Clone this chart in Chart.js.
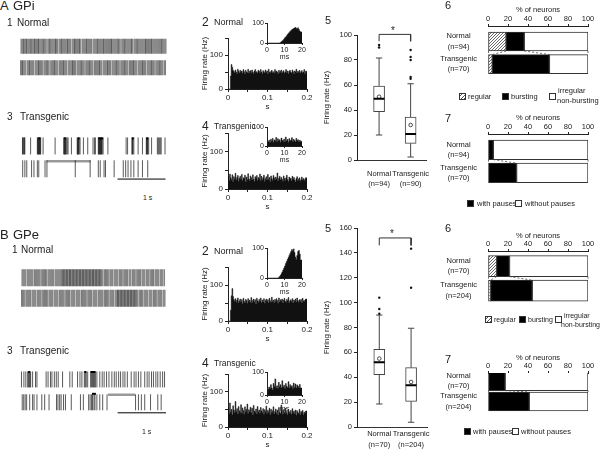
<!DOCTYPE html>
<html>
<head>
<meta charset="utf-8">
<script src="https://cdn.jsdelivr.net/npm/chart.js@4.4.1/dist/chart.umd.min.js"></script>
<style>
body { margin: 0; background: #fff; }
#fig { position: relative; width: 600px; height: 450px; overflow: hidden; font-family: "Liberation Sans", Arial, sans-serif; color: #222; }
#fig canvas { position: absolute; }
.t { position: absolute; white-space: nowrap; line-height: 1; }
.sw { position: absolute; width: 7px; height: 7px; border: 1px solid #333; box-sizing: border-box; }
</style>
</head>
<body>
<div id="fig"></div>
<script>
// spike times (s) for the raster traces, 3 s per trace
const A1_SPIKES_1 = [0.01,0.03,0.05,0.06,0.08,0.10,0.12,0.13,0.15,0.17,0.19,0.21,0.22,0.24,0.26,0.28,0.29,0.31,0.33,0.35,0.37,0.38,0.40,0.42,0.44,0.46,0.47,0.49,0.51,0.53,0.56,0.58,0.60,0.61,0.63,0.65,0.67,0.69,0.71,0.72,0.74,0.76,0.79,0.81,0.83,0.84,0.86,0.88,0.90,0.92,0.94,0.96,0.97,0.99,1.01,1.03,1.06,1.08,1.10,1.11,1.13,1.15,1.17,1.19,1.21,1.22,1.24,1.27,1.29,1.31,1.33,1.35,1.36,1.38,1.40,1.42,1.44,1.46,1.49,1.51,1.53,1.55,1.57,1.58,1.60,1.62,1.64,1.66,1.68,1.70,1.71,1.73,1.75,1.77,1.79,1.81,1.83,1.85,1.87,1.88,1.90,1.92,1.94,1.96,1.98,2.00,2.01,2.03,2.05,2.08,2.10,2.12,2.14,2.15,2.17,2.19,2.21,2.23,2.25,2.27,2.28,2.30,2.33,2.35,2.37,2.39,2.40,2.42,2.44,2.46,2.48,2.50,2.52,2.54,2.56,2.57,2.59,2.61,2.63,2.65,2.67,2.69,2.70,2.72,2.74,2.76,2.78,2.80,2.82,2.84,2.86,2.88,2.90,2.91,2.93,2.95,2.97,2.99];
const A1_SPIKES_2 = [0.00,0.02,0.04,0.05,0.07,0.09,0.11,0.14,0.16,0.18,0.19,0.21,0.23,0.25,0.27,0.30,0.32,0.34,0.36,0.37,0.39,0.41,0.43,0.45,0.48,0.50,0.52,0.54,0.55,0.57,0.59,0.62,0.64,0.66,0.68,0.70,0.71,0.73,0.75,0.77,0.80,0.82,0.84,0.86,0.88,0.89,0.91,0.93,0.95,0.98,1.00,1.02,1.04,1.06,1.07,1.09,1.11,1.13,1.16,1.18,1.20,1.22,1.24,1.25,1.27,1.29,1.31,1.34,1.36,1.38,1.40,1.42,1.43,1.45,1.47,1.49,1.52,1.54,1.56,1.58,1.60,1.62,1.63,1.65,1.67,1.70,1.72,1.74,1.76,1.78,1.79,1.81,1.83,1.85,1.88,1.90,1.92,1.94,1.96,1.97,1.99,2.01,2.03,2.06,2.08,2.10,2.12,2.14,2.15,2.17,2.19,2.21,2.24,2.26,2.28,2.30,2.32,2.33,2.35,2.37,2.39,2.42,2.44,2.46,2.48,2.50,2.51,2.53,2.55,2.57,2.60,2.62,2.64,2.66,2.68,2.69,2.71,2.73,2.75,2.78,2.80,2.82,2.84,2.86,2.87,2.89,2.91,2.93,2.96,2.98];
const A3_SPIKES_1 = [0.02,0.03,0.045,0.06,0.07,0.19,0.33,0.34,0.35,0.36,0.37,0.38,0.39,0.40,0.45,0.70,0.88,0.89,0.90,0.91,0.92,0.93,0.95,0.97,1.04,1.16,1.17,1.18,1.19,1.20,1.22,1.29,1.38,1.49,1.52,1.54,1.60,1.61,1.62,1.63,1.64,1.65,1.66,1.67,1.68,1.70,1.80,2.18,2.21,2.30,2.31,2.32,2.34,2.43,2.52,2.60,2.61,2.62,2.63,2.65,2.71,2.83,2.85,2.87,2.89,2.91,2.99];
const A3_SPIKES_2 = [0.025,0.07,0.11,0.21,0.26,0.33,0.36,0.49,0.53,1.12,1.43,1.60,1.64,1.72,1.75,1.93,2.12,2.17,2.22,2.28,2.34,2.43,2.52,2.63];
const A3_BURSTS_1 = [[0.35,0.39],[0.89,0.92],[1.18,1.21],[1.60,1.70],[2.30,2.34],[2.60,2.64]];
const A3_PAUSE_2 = [[0.52,1.44]];
const B1_SPIKES_1 = [0.01,0.03,0.05,0.07,0.09,0.12,0.14,0.16,0.18,0.20,0.22,0.24,0.27,0.29,0.31,0.33,0.35,0.37,0.39,0.42,0.44,0.46,0.48,0.50,0.52,0.55,0.57,0.59,0.61,0.63,0.65,0.67,0.70,0.72,0.74,0.76,0.78,0.80,0.82,0.84,0.85,0.87,0.88,0.90,0.91,0.93,0.94,0.96,0.97,0.99,1.00,1.02,1.03,1.05,1.06,1.08,1.09,1.11,1.12,1.14,1.15,1.17,1.18,1.20,1.21,1.23,1.24,1.26,1.27,1.29,1.30,1.32,1.33,1.35,1.36,1.38,1.39,1.41,1.42,1.44,1.45,1.47,1.48,1.50,1.51,1.53,1.54,1.56,1.57,1.59,1.60,1.62,1.63,1.65,1.66,1.68,1.70,1.73,1.75,1.77,1.79,1.81,1.84,1.86,1.88,1.90,1.93,1.95,1.97,1.99,2.01,2.04,2.06,2.08,2.10,2.13,2.15,2.17,2.19,2.21,2.24,2.26,2.28,2.31,2.33,2.35,2.37,2.40,2.42,2.44,2.46,2.48,2.51,2.53,2.55,2.57,2.60,2.62,2.64,2.66,2.69,2.71,2.73,2.75,2.78,2.80,2.82,2.84,2.86,2.89,2.91,2.93,2.95,2.98];
const B1_SPIKES_2 = [0.00,0.02,0.04,0.06,0.09,0.11,0.13,0.15,0.17,0.19,0.22,0.24,0.26,0.28,0.30,0.33,0.35,0.37,0.39,0.41,0.44,0.46,0.48,0.50,0.52,0.54,0.57,0.59,0.61,0.63,0.65,0.68,0.70,0.72,0.74,0.76,0.79,0.81,0.83,0.85,0.87,0.89,0.92,0.94,0.96,0.98,1.00,1.03,1.05,1.07,1.09,1.11,1.14,1.16,1.18,1.20,1.22,1.25,1.27,1.29,1.31,1.33,1.35,1.38,1.40,1.42,1.44,1.46,1.49,1.51,1.53,1.55,1.57,1.60,1.62,1.64,1.66,1.68,1.70,1.73,1.75,1.77,1.79,1.81,1.84,1.86,1.88,1.90,1.92,1.95,1.97,1.99,2.00,2.02,2.03,2.05,2.06,2.08,2.09,2.11,2.12,2.14,2.15,2.17,2.18,2.20,2.21,2.23,2.24,2.26,2.27,2.29,2.30,2.32,2.33,2.35,2.36,2.38,2.39,2.41,2.43,2.46,2.48,2.50,2.52,2.55,2.57,2.59,2.61,2.63,2.66,2.68,2.70,2.72,2.75,2.77,2.79,2.81,2.84,2.86,2.88,2.90,2.92,2.95,2.97,2.99];
const B3_SPIKES_1 = [0.01,0.06,0.10,0.14,0.15,0.17,0.185,0.20,0.24,0.30,0.33,0.52,0.56,0.61,0.64,0.69,0.73,0.77,0.86,1.01,1.06,1.17,1.22,1.26,1.31,1.33,1.35,1.38,1.44,1.46,1.48,1.50,1.52,1.54,1.57,1.63,1.68,1.72,1.77,1.82,1.88,1.93,1.97,2.02,2.06,2.11,2.15,2.20,2.28,2.34,2.38,2.43,2.48,2.56,2.61,2.65,2.70,2.74,2.79,2.83,2.88,2.93,2.97];
const B3_SPIKES_2 = [0.025,0.056,0.086,0.117,0.18,0.24,0.27,0.33,0.43,0.49,0.58,0.735,0.765,0.80,0.83,0.88,0.92,1.04,1.23,1.29,1.40,1.43,1.46,1.48,1.51,1.53,1.57,1.63,1.69,1.78,2.37,2.43,2.49,2.56,2.68,2.83,2.90];
const B3_BURSTS_1 = [[0.15,0.185],[1.31,1.35],[1.44,1.54]];
const B3_BURSTS_2 = [[1.47,1.55]];
const B3_PAUSE_2 = [[1.80,2.36]];

// peri-stimulus histograms, firing rate (Hz) per bin over 0-0.2 s
const HIST_A_NORMAL = [0,0,0,0,38,72,64,55,52,48,56,50,45,58,52,47,55,49,53,46,57,51,44,55,50,48,58,46,52,54,47,56,50,45,53,57,49,51,46,55,52,48,57,50,44,54,51,47,56,49,53,45,58,50,47,52,55,48,51,46,57,49,53,50,45,55,48,52,56,47,51,54,46,50,57,48,53,45,52,55,49,47,56,51,44,53,50,58,47,52,49,55,46,51,54,48,50,57,45,52];
const HIST_A_TRANS = [28,35,22,40,30,25,38,20,33,27,42,24,31,36,21,29,34,26,39,23,30,28,37,19,32,25,41,27,22,35,30,24,38,26,20,33,29,36,23,31,27,40,22,34,25,30,37,21,28,33,24,39,26,31,20,35,28,23,36,30,25,32,27,43,22,29,34,24,31,26,21,35,28,23,30,37,25,20,32,27,29,22,34,26,31,24,19,28,33,23,27,30,21,25,32,24,28,22,26,30];
const HIST_B_NORMAL = [0,0,0,0,30,70,90,68,60,55,62,52,58,64,50,56,61,53,59,48,63,55,51,60,57,49,62,54,58,52,65,50,57,61,53,59,47,63,56,52,60,55,64,51,58,53,62,49,57,61,54,59,50,63,56,52,66,55,58,51,60,54,62,57,49,64,53,59,56,61,50,58,63,55,52,60,57,65,51,56,59,54,62,50,58,55,61,53,64,57,52,59,55,60,51,63,56,54,58,61];
const HIST_B_TRANS = [45,55,38,68,42,50,35,60,48,40,72,44,52,37,58,46,41,63,39,54,47,36,57,43,50,65,38,49,44,56,40,53,35,61,45,42,51,37,58,43,48,39,55,46,41,52,36,49,44,59,38,47,42,53,35,50,40,46,57,37,44,51,39,48,34,55,42,38,62,45,36,49,41,53,38,44,35,50,43,39,47,36,52,40,45,37,48,33,46,41,38,50,35,44,40,47,34,42,39,45];
// insets, 0-20 ms
const INSET_A_NORMAL = [0,0,0,0,0,0,0,0,0,0,0,0,0,0,0,0,3,6,10,14,20,26,30,36,42,48,52,58,62,66,70,72,75,78,74,70,76,68,60,55];
const INSET_A_TRANS = [0,0,22,30,18,35,25,40,20,32,28,45,22,38,27,33,20,42,30,25,36,22,47,28,34,20,39,26,31,44,24,35,29,22,40,27,33,21,30,25];
const INSET_B_NORMAL = [0,0,0,0,0,0,0,0,0,0,0,0,0,0,2,5,9,14,20,27,33,40,48,55,62,68,75,82,88,95,90,97,85,70,62,75,88,92,80,60];
const INSET_B_TRANS = [0,0,25,35,28,45,30,22,50,38,70,32,40,28,55,36,45,30,62,35,42,28,50,38,33,58,30,45,36,40,28,52,34,48,30,44,38,32,46,30];

// box plots (Hz): [normal, transgenic]
const BOX_A_CATS = [['Normal', '(n=94)'], ['Transgenic', '(n=90)']];
const BOX_A_LOW = [20, 2.4];
const BOX_A_Q1 = [38.7, 13.3];
const BOX_A_MED = [49, 20.8];
const BOX_A_Q3 = [59.2, 34.4];
const BOX_A_HIGH = [81.6, 61];
const BOX_A_MEAN = [50.6, 28];
const BOX_A_OUT = [[90, 92], [65, 66.5, 80, 82.5, 88]];
const BOX_B_CATS = [['Normal', '(n=70)'], ['Transgenic', '(n=204)']];
const BOX_B_LOW = [18.5, 3.8];
const BOX_B_Q1 = [42, 20.6];
const BOX_B_MED = [52, 33.5];
const BOX_B_Q3 = [62.5, 47.7];
const BOX_B_HIGH = [90, 79.4];
const BOX_B_MEAN = [55, 36.2];
const BOX_B_OUT = [[91, 94.9, 104], [112, 143.4]];

// % of neurons: [normal, transgenic]
const CATS_A = [['Normal', '(n=94)'], ['Transgenic', '(n=70)']];
const CATS_B = [['Normal', '(n=70)'], ['Transgenic', '(n=204)']];
const A6_REGULAR = [18.1, 4.3];
const A6_BURSTING = [18.1, 57.1];
const A6_IRREGULAR = [63.8, 38.6];
const A7_PAUSES = [5.3, 28.6];
const A7_NO_PAUSES = [94.7, 71.4];
const B6_REGULAR = [8.6, 2.5];
const B6_BURSTING = [12.9, 41.7];
const B6_IRREGULAR = [78.5, 55.8];
const B7_PAUSES = [17.1, 41.2];
const B7_NO_PAUSES = [82.9, 58.8];

Chart.defaults.font.family = '"Liberation Sans", Arial, sans-serif';
Chart.defaults.font.size = 8;
Chart.defaults.color = '#222';
Chart.defaults.animation = false;
Chart.defaults.responsive = false;
Chart.defaults.events = [];
Chart.defaults.plugins.legend.display = false;
Chart.defaults.plugins.tooltip.enabled = false;

const fig = document.getElementById('fig');

function addCanvas(left, top, w, h) {
  const c = document.createElement('canvas');
  c.width = w; c.height = h;
  c.style.left = left + 'px'; c.style.top = top + 'px';
  c.style.width = w + 'px'; c.style.height = h + 'px';
  fig.appendChild(c);
  return c;
}

function txt(s, left, cy, size) {
  const d = document.createElement('div');
  d.className = 't';
  d.textContent = s;
  d.style.left = left + 'px';
  d.style.top = (cy - 0.55 * size) + 'px';
  d.style.fontSize = size + 'px';
  fig.appendChild(d);
}

function swatch(left, top, bg) {
  const d = document.createElement('div');
  d.className = 'sw';
  d.style.left = left + 'px'; d.style.top = top + 'px';
  d.style.background = bg;
  fig.appendChild(d);
}

const hatchCss = 'repeating-linear-gradient(-45deg, #555 0 1px, #fff 1px 2.5px)';
function hatchPattern() {
  const c = document.createElement('canvas');
  c.width = 3; c.height = 3;
  const g = c.getContext('2d');
  g.fillStyle = '#fff'; g.fillRect(0, 0, 3, 3);
  g.strokeStyle = '#444'; g.lineWidth = 0.8;
  g.beginPath();
  g.moveTo(0, 3); g.lineTo(3, 0);
  g.moveTo(-1, 1); g.lineTo(1, -1);
  g.moveTo(2, 4); g.lineTo(4, 2);
  g.stroke();
  return g.createPattern(c, 'repeat');
}

// ---------- raster traces ----------
function raster(pos, yMin, yMax, rows, lines) {
  const datasets = rows.map(r => ({
    data: r.times.map(t => ({x: t, y: r.y})),
    pointStyle: 'line', pointRotation: 90, pointRadius: r.len,
    pointBorderColor: r.color, pointBorderWidth: 1, clip: false
  }));
  lines.forEach(l => datasets.push({
    data: l.segs.flatMap(s => [{x: s[0], y: l.y}, {x: s[1], y: l.y}, {x: s[1], y: null}]),
    showLine: true, pointRadius: 0, borderColor: l.color, borderWidth: l.width,
    spanGaps: false, clip: false
  }));
  new Chart(addCanvas(...pos), {
    type: 'scatter',
    data: {datasets},
    options: {
      layout: {padding: 0},
      scales: {
        x: {display: false, min: 0, max: 3},
        y: {display: false, min: yMin, max: yMax}
      }
    }
  });
}

const NORM_COL = 'rgba(0,0,0,0.5)';
const TG_COL = 'rgba(0,0,0,0.65)';

raster([12, 27, 163, 60], -0.5, 1.5,
  [{times: A1_SPIKES_1, y: 1, len: 7.5, color: NORM_COL}, {times: A1_SPIKES_2, y: 0, len: 7.5, color: NORM_COL}], []);
raster([12, 125, 163, 67], -0.6, 1.5,
  [{times: A3_SPIKES_1, y: 1, len: 8.5, color: TG_COL}, {times: A3_SPIKES_2, y: 0, len: 8.5, color: TG_COL}],
  [{segs: A3_BURSTS_1, y: 1.33, color: '#000', width: 2},
   {segs: A3_PAUSE_2, y: 0.33, color: '#999', width: 2.5},
   {segs: [[2, 3]], y: -0.45, color: '#000', width: 1}]);
raster([12, 258, 163, 60], -0.5, 1.5,
  [{times: B1_SPIKES_1, y: 1, len: 8.5, color: NORM_COL}, {times: B1_SPIKES_2, y: 0, len: 8.5, color: NORM_COL}], []);
raster([12, 359, 163, 66], -0.6, 1.5,
  [{times: B3_SPIKES_1, y: 1, len: 8, color: TG_COL}, {times: B3_SPIKES_2, y: 0, len: 8, color: TG_COL}],
  [{segs: B3_BURSTS_1, y: 1.32, color: '#000', width: 2},
   {segs: B3_BURSTS_2, y: 0.37, color: '#000', width: 2},
   {segs: B3_PAUSE_2, y: 0.33, color: '#999', width: 2.5},
   {segs: [[2, 3]], y: -0.46, color: '#000', width: 1}]);

// ---------- histograms ----------
const axisLook = {
  grid: {drawOnChartArea: false, color: '#222', tickLength: 3},
  border: {color: '#222'}
};

function histogram(pos, bins, xMax, o) {
  const w = xMax / bins.length;
  const pts = bins.map((v, i) => ({x: i * w, y: v}));
  pts.push({x: xMax, y: bins[bins.length - 1]});
  new Chart(addCanvas(...pos), {
    type: 'line',
    data: {datasets: [{data: pts, stepped: 'after', fill: 'origin', backgroundColor: '#111',
      borderColor: '#111', borderWidth: 0.5, pointRadius: 0}]},
    options: {
      layout: {padding: o.pad},
      scales: {
        x: {
          type: 'linear', min: 0, max: xMax,
          grid: {drawOnChartArea: false, color: '#222', tickLength: o.tl},
          border: {color: '#222'},
          ticks: {stepSize: o.xStep, padding: 1, font: {size: o.fs}, autoSkip: false, maxRotation: 0, callback: o.xLab},
          title: {display: true, text: o.xTitle, padding: 0, font: {size: o.fs}},
          afterFit: s => { s.height = o.xH; }
        },
        y: {
          min: 0, max: o.yMax,
          grid: {drawOnChartArea: false, color: '#222', tickLength: o.tl},
          border: {color: '#222'},
          ticks: {stepSize: o.yStep, padding: o.yp, font: {size: o.fs}, callback: v => (v === 0 || v === 100) ? String(v) : ''},
          title: {display: o.yTitle, text: 'Firing rate (Hz)', padding: 2, font: {size: 8}},
          afterFit: s => { s.width = o.yW; }
        }
      }
    }
  });
}

const secLab = v => { const r = Math.round(v * 100); return r % 10 === 0 ? String(r / 100) : ''; };
const mainOpts = {pad: {top: 8, right: 8}, xMax: 0.2, xStep: 0.05, xLab: secLab, xTitle: 's',
  yMax: 150, yStep: 50, yTitle: true, yW: 30, xH: 23, fs: 8, tl: 3, yp: 2};
const insetOpts = {pad: {top: 6, right: 6}, xStep: 10, xLab: v => String(v), xTitle: 'ms',
  yMax: 100, yStep: 100, yTitle: false, yW: 22, xH: 18, fs: 7, tl: 2, yp: 1};

histogram([198, 30, 117, 82], HIST_A_NORMAL, 0.2, mainOpts);
histogram([245, 17, 63, 44], INSET_A_NORMAL, 20, insetOpts);
histogram([198, 125, 117, 87], HIST_A_TRANS, 0.2, mainOpts);
histogram([245, 121, 63, 43], INSET_A_TRANS, 20, insetOpts);
histogram([198, 259, 117, 85], HIST_B_NORMAL, 0.2, mainOpts);
histogram([245, 242, 63, 54], INSET_B_NORMAL, 20, insetOpts);
histogram([198, 366, 117, 84], HIST_B_TRANS, 0.2, mainOpts);
histogram([245, 366, 63, 47], INSET_B_TRANS, 20, insetOpts);

// ---------- box plots ----------
function segs(list) {
  return list.flatMap(s => [s[0], s[1], {x: s[1].x, y: null}]);
}

function boxPlot(pos, cats, low, q1, med, q3, high, mean, outl, o) {
  const xs = [1, 2];
  const whisk = [], meds = [], outs = [];
  xs.forEach((x, i) => {
    whisk.push([{x, y: low[i]}, {x, y: q1[i]}], [{x, y: q3[i]}, {x, y: high[i]}],
      [{x: x - 0.1, y: low[i]}, {x: x + 0.1, y: low[i]}], [{x: x - 0.1, y: high[i]}, {x: x + 0.1, y: high[i]}]);
    meds.push([{x: x - 0.17, y: med[i]}, {x: x + 0.17, y: med[i]}]);
    outl[i].forEach(v => outs.push({x, y: v}));
  });
  const br = o.bracket;
  new Chart(addCanvas(...pos), {
    type: 'bar',
    data: {datasets: [
      {type: 'line', data: segs(meds), borderColor: '#000', borderWidth: 2, pointRadius: 0, spanGaps: false, order: 0},
      {type: 'scatter', data: xs.map((x, i) => ({x, y: mean[i]})), pointStyle: 'circle', pointRadius: 1.8,
        pointBackgroundColor: '#fff', pointBorderColor: '#222', pointBorderWidth: 0.8, order: 1},
      {type: 'scatter', data: outs, pointRadius: 1.2, pointBackgroundColor: '#111', pointBorderWidth: 0, order: 1},
      {type: 'bar', data: xs.map((x, i) => ({x, y: [q1[i], q3[i]]})), backgroundColor: '#fff',
        borderColor: '#444', borderWidth: 1, borderSkipped: false, barThickness: 11, order: 5},
      {type: 'line', data: segs(whisk), borderColor: '#444', borderWidth: 1, pointRadius: 0, spanGaps: false, order: 6},
      {type: 'line', data: [{x: 1, y: br[0]}, {x: 1, y: br[1]}, {x: 2, y: br[1]}, {x: 2, y: br[0]}],
        borderColor: '#333', borderWidth: 1, pointRadius: 0, clip: false, order: 6}
    ]},
    options: {
      layout: {padding: {top: 10, right: 13}},
      scales: {
        x: {
          type: 'linear', min: 0.3, max: 2.5, offset: false,
          grid: {display: false, drawTicks: false, offset: false},
          border: {color: '#333'},
          afterBuildTicks: s => { s.ticks = [{value: 1}, {value: 2}]; },
          ticks: {padding: o.lp, autoSkip: false, maxRotation: 0, font: {size: 7.5, lineHeight: o.lh},
            callback: v => v === 1 ? cats[0] : v === 2 ? cats[1] : ''},
          afterFit: s => { s.height = o.xH; }
        },
        y: {
          min: 0, max: o.yMax,
          ...axisLook,
          ticks: {stepSize: 20, padding: 2, font: {size: 7.5}},
          title: {display: true, text: 'Firing rate (Hz)', padding: 2, font: {size: 8}},
          afterFit: s => { s.width = 37; }
        }
      }
    }
  });
}

boxPlot([320, 25, 120, 165], BOX_A_CATS, BOX_A_LOW, BOX_A_Q1, BOX_A_MED, BOX_A_Q3, BOX_A_HIGH, BOX_A_MEAN, BOX_A_OUT,
  {yMax: 100, bracket: [95, 100.5], xH: 30, lp: 8, lh: 1.45});
boxPlot([320, 218, 120, 232], BOX_B_CATS, BOX_B_LOW, BOX_B_Q1, BOX_B_MED, BOX_B_Q3, BOX_B_HIGH, BOX_B_MEAN, BOX_B_OUT,
  {yMax: 160, bracket: [146, 152], xH: 23, lp: 1, lh: 1.5});

// ---------- stacked % bars ----------
const connectors = {
  id: 'connectors',
  afterDatasetsDraw(chart) {
    const ctx = chart.ctx;
    ctx.save();
    ctx.setLineDash([2, 2]);
    ctx.strokeStyle = '#444';
    ctx.lineWidth = 0.8;
    chart.data.datasets.forEach((ds, i) => {
      const els = chart.getDatasetMeta(i).data;
      const a = els[0].getProps(['x', 'y', 'base', 'height'], true);
      const b = els[1].getProps(['x', 'y', 'base', 'height'], true);
      const ends = [[a.x, b.x]];
      if (i === 0) ends.push([a.base, b.base]);
      ends.forEach(([xa, xb]) => {
        ctx.beginPath();
        ctx.moveTo(xa, a.y + a.height / 2);
        ctx.lineTo(xb, b.y - b.height / 2);
        ctx.stroke();
      });
    });
    ctx.restore();
  }
};

function pctBars(pos, cats, series, o) {
  new Chart(addCanvas(...pos), {
    type: 'bar',
    data: {datasets: series.map(s => ({
      data: s.values.map((v, i) => ({y: i + 1, x: v})),
      backgroundColor: s.fill, borderColor: '#333', borderWidth: 1, borderSkipped: false,
      barThickness: o.thick
    }))},
    plugins: [connectors],
    options: {
      indexAxis: 'y',
      layout: {padding: {top: 0, right: 12, bottom: o.padB, left: 0}},
      scales: {
        x: {
          position: 'top', stacked: true, min: 0, max: 100,
          grid: {drawOnChartArea: false, color: '#222', tickLength: 2},
          border: {color: '#222'},
          ticks: {stepSize: 20, padding: 1, font: {size: 7.5}},
          title: {display: true, text: '% of neurons', padding: {top: o.titleTop, bottom: 0}, font: {size: 7.5}},
          afterFit: s => { s.height = 26; }
        },
        y: {
          type: 'linear', reverse: true, stacked: true, min: o.yMin, max: o.yMax, offset: false,
          grid: {display: false, offset: false}, border: {display: false},
          afterBuildTicks: s => { s.ticks = [{value: 1}, {value: 2}]; },
          ticks: {padding: 3, crossAlign: 'center', font: {size: 7.5, lineHeight: 1.4},
            callback: v => v === 1 ? cats[0] : v === 2 ? cats[1] : ''},
          afterFit: s => { s.width = 63; }
        }
      }
    }
  });
}

const HATCH = hatchPattern();
pctBars([425, 0, 175, 88], CATS_A, [
  {values: A6_REGULAR, fill: HATCH}, {values: A6_BURSTING, fill: '#000'}, {values: A6_IRREGULAR, fill: '#fff'}
], {thick: 19, padB: 4, yMin: 0.315, yMax: 2.463, titleTop: 5});
pctBars([425, 108, 175, 89], CATS_A, [
  {values: A7_PAUSES, fill: '#000'}, {values: A7_NO_PAUSES, fill: '#fff'}
], {thick: 19.5, padB: 2, yMin: 0.316, yMax: 2.456, titleTop: 5.5});
pctBars([425, 225, 175, 91], CATS_B, [
  {values: B6_REGULAR, fill: HATCH}, {values: B6_BURSTING, fill: '#000'}, {values: B6_IRREGULAR, fill: '#fff'}
], {thick: 21, padB: 2, yMin: 0.383, yMax: 2.483, titleTop: 6.5});
pctBars([425, 347, 175, 78], CATS_B, [
  {values: B7_PAUSES, fill: '#000'}, {values: B7_NO_PAUSES, fill: '#fff'}
], {thick: 19, padB: 2, yMin: 0.604, yMax: 2.491, titleTop: 6.5});

// ---------- labels ----------
txt('A', 0, 6, 13); txt('GPi', 13, 6, 13);
txt('B', 0, 235, 13); txt('GPe', 13, 235, 13);
txt('1', 7, 23.5, 10); txt('Normal', 17, 23.5, 10);
txt('3', 7, 117.5, 10); txt('Transgenic', 20, 117.5, 10);
txt('1', 12, 250, 10); txt('Normal', 21, 250, 10);
txt('3', 7, 351.5, 10); txt('Transgenic', 20, 351.5, 10);
txt('2', 202, 23, 12); txt('Normal', 214, 23, 9);
txt('4', 202, 126.5, 12); txt('Transgenic', 214, 126.5, 8.5);
txt('2', 202, 252, 12); txt('Normal', 214, 252, 9);
txt('4', 202, 363.5, 12); txt('Transgenic', 214, 363.5, 8.5);
txt('5', 325, 21, 11); txt('5', 325, 229, 11);
txt('6', 445, 6.5, 11); txt('7', 445, 119, 11);
txt('6', 445, 229, 11); txt('7', 445, 360, 11);
txt('1 s', 143, 197.5, 7); txt('1 s', 142, 432, 7);
txt('*', 391, 31, 10); txt('*', 390, 234, 10);

// legends
swatch(459, 93, hatchCss); txt('regular', 468, 97, 7.5);
swatch(502, 93, '#000'); txt('bursting', 511, 97, 7.5);
swatch(549, 93, '#fff'); txt('irregular', 558, 91.5, 7.5); txt('non-bursting', 557, 101.5, 7.5);
swatch(467, 200, '#000'); txt('with pauses', 477, 204, 7.5);
swatch(515, 200, '#fff'); txt('without pauses', 525, 204, 7.5);
swatch(485, 316, hatchCss); txt('regular', 494, 320, 7);
swatch(519, 316, '#000'); txt('bursting', 528, 320, 7);
swatch(555, 316, '#fff'); txt('irregular', 564, 315.5, 7); txt('non-bursting', 561, 325, 7);
swatch(464, 428, '#000'); txt('with pauses', 473, 432, 7.5);
swatch(512, 428, '#fff'); txt('without pauses', 521, 432, 7.5);
</script>
</body>
</html>
